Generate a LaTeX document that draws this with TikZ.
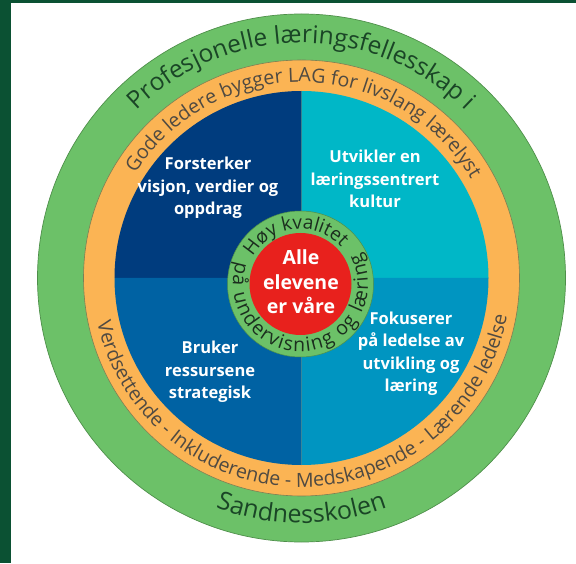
\documentclass[tikz,border=0pt]{standalone}
\usepackage{fontspec}
\setmainfont{Open Sans}
\usetikzlibrary{decorations.text}
\definecolor{bordergreen}{HTML}{0B5133}
\definecolor{ringgreen}{HTML}{6CC168}
\definecolor{ringedge}{HTML}{4E8F4A}
\definecolor{ringorange}{HTML}{FBB454}
\definecolor{orangeedge}{HTML}{7C7F55}
\definecolor{qnavy}{HTML}{003C7E}
\definecolor{qcyan}{HTML}{00B7C7}
\definecolor{qblue}{HTML}{0062A3}
\definecolor{qmid}{HTML}{0095C1}
\definecolor{corered}{HTML}{E8211D}
\definecolor{gtext}{HTML}{1A4526}
\definecolor{otext}{HTML}{4F4A42}
\definecolor{itext}{HTML}{1B2E1E}
\tikzset{
  disc/.style={circle, inner sep=0pt},
  qtext/.style={text=white, align=center, font=\bfseries\fontsize{16.5}{22.5}\selectfont},
  coretext/.style={text=white, align=center, font=\bfseries\fontsize{19.5}{24.5}\selectfont}
}
\begin{document}
\begin{tikzpicture}[x=1pt,y=1pt]
\useasboundingbox (0,0) rectangle (576,563);
\fill[bordergreen] (0,0) rectangle (576,563);
\fill[white] (11,0) rectangle (576,560);
\coordinate (C) at (301.5,285);
\coordinate (c2) at (300.5,279);
% rings
\node[disc, fill=ringgreen, draw=ringedge, line width=0.7pt, minimum size=528pt] (outer) at (C) {};
\node[disc, fill=ringorange, draw=orangeedge, line width=0.6pt, minimum size=436pt] (mid) at (C) {};
% quadrants
\fill[qnavy] (C) -- ++(90:187) arc (90:180:187) -- cycle;
\fill[qcyan] (C) -- ++(0:187) arc (0:90:187) -- cycle;
\fill[qblue] (C) -- ++(180:187) arc (180:270:187) -- cycle;
\fill[qmid] (C) -- ++(270:187) arc (270:360:187) -- cycle;
% centre
\node[disc, fill=ringgreen, draw=ringedge, line width=0.5pt, minimum size=146pt] (inring) at (c2) {};
\node[disc, fill=corered, minimum size=102pt] (core) at (c2) {};
% quadrant texts
\node[qtext] (tl) at (208,375) {Forsterker\\visjon, verdier og\\oppdrag};
\node[qtext] (tr) at (375,384) {Utvikler en\\læringssentrert\\kultur};
\node[qtext] (bl) at (210,191) {Bruker\\ressursene\\strategisk};
\node[qtext] (br) at (411,209.5) {Fokuserer\\på ledelse av\\utvikling og\\læring};
\node[coretext] (ct) at (301,281) {Alle\\elevene\\er våre};
% ring texts
\path[decorate, decoration={text along path, text align=center,
  text={|\fontsize{24.5}{28}\selectfont\color{gtext}|Profesjonelle læringsfellesskap i}}]
  ([shift={(180:235)}]C) arc (180:0:235);
\path[decorate, decoration={text along path, text align=center,
  text={|\fontsize{25}{28}\selectfont\color{gtext}|Sandnesskolen}}]
  ([shift={(200:245)}]C) arc (200:340:245);
\path[decorate, decoration={text along path, text align=center,
  text={|\fontsize{19.6}{24}\selectfont\color{otext}|Gode ledere bygger LAG for livslang lærelyst}}]
  ([shift={(179:196)}]C) arc (179:-1:196);
\path[decorate, decoration={text along path, text align=center,
  text={|\fontsize{19.6}{24}\selectfont\color{otext}|Verdsettende - Inkluderende - Medskapende - Lærende ledelse}}]
  ([shift={(181:209)}]C) arc (181:361:209);
\path[decorate, decoration={text along path, text align=center,
  text={|\fontsize{19}{22}\selectfont\color{itext}|Høy kvalitet}}]
  ([shift={(186:55)}]c2) arc (186:6:55);
\path[decorate, decoration={text along path, text align=fit to path,
  text={|\fontsize{19.5}{22}\selectfont\color{itext}|på undervisning og læring}}]
  ([shift={(161:67.5)}]c2) arc (161:388:67.5);
\end{tikzpicture}
\end{document}
